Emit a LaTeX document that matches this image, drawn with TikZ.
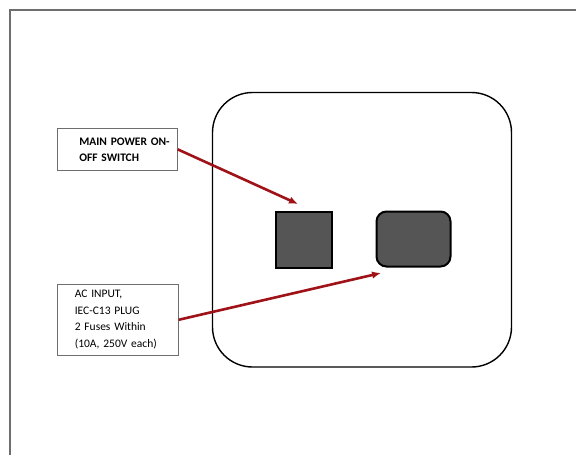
\documentclass[tikz,border=0pt]{standalone}
\usepackage{fontspec}
\setmainfont{Carlito}
\usetikzlibrary{arrows.meta,positioning}
\definecolor{frameline}{HTML}{6E6E6E}
\definecolor{panelfill}{HTML}{555555}
\definecolor{pointred}{HTML}{9E1218}
\tikzset{>=Latex,
  every node/.style={font=\fontsize{11.5}{16.5}\selectfont},
  frame/.style={draw=frameline,line width=1.1pt},
  housing/.style={draw=black,line width=1.4pt,rounded corners=40pt},
  switchbox/.style={draw=black,fill=panelfill,line width=2pt},
  plugbox/.style={draw=black,fill=panelfill,line width=2pt,rounded corners=10pt},
  labelbox/.style={draw=frameline,fill=white,line width=.6pt,align=left,anchor=north west,inner sep=0pt,text width=104pt},
  pointer/.style={->,draw=pointred,line width=2.6pt,>={Latex[length=9pt,width=7.5pt]}}}
\begin{document}
\begin{tikzpicture}[x=1pt,y=-1pt]
\useasboundingbox(0,0)rectangle(576,455);
\draw[frame](10,455)--(10,10)--(576,10);
\draw[housing](212.5,92.5)rectangle(511.5,367);
\node[switchbox,minimum width=56pt,minimum height=56pt,inner sep=0pt](switch)at(303.5,239.5){};
\node[plugbox,minimum width=74pt,minimum height=55pt,inner sep=0pt](plug)at(413.5,239){};
\node[labelbox,minimum width=120pt,minimum height=42pt](mainlbl)at(57,128){\hspace*{14pt}\parbox[t]{104pt}{\vspace*{1pt}\textbf{MAIN POWER ON-\\OFF SWITCH}}};
\node[labelbox,minimum width=121pt,minimum height=71pt](aclbl)at(57,284){\hspace*{9pt}\parbox[t]{108pt}{\vspace*{0pt}AC INPUT,\\IEC-C13 PLUG\\2 Fuses Within\\(10A, 250V each)}};
\coordinate(swtip)at(298,204);
\coordinate(plugtip)at(381,273);
\draw[pointer](mainlbl.east)--(swtip);
\draw[pointer](aclbl.east)--(plugtip);
\end{tikzpicture}
\end{document}
